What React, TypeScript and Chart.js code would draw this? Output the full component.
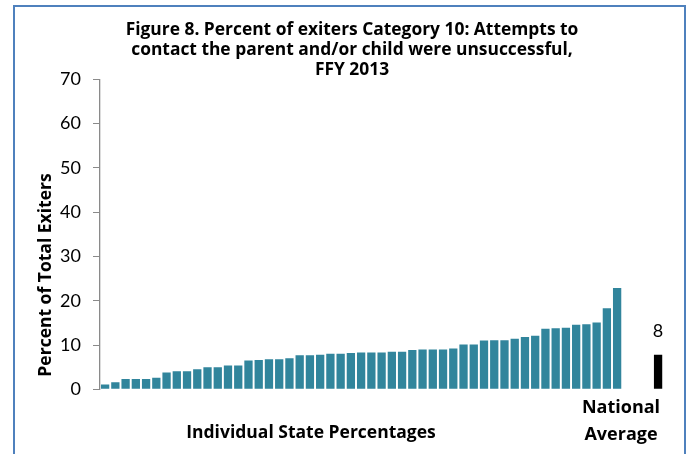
import React, { useEffect, useRef } from "react";
import { Chart, registerables } from "chart.js";

Chart.register(...registerables);

const titleLines = [
  "Figure 8. Percent of exiters Category 10: Attempts to",
  "contact the parent and/or child were unsuccessful,",
  "FFY 2013",
];
const yAxisTitle = "Percent of Total Exiters";
const stateAxisLabel = "Individual State Percentages";
const nationalLabelLines = ["National", "Average"];

const stateValues = [
  1.1, 1.6, 2.3, 2.3, 2.3, 2.6, 3.8, 4.1, 4.1, 4.5, 5.0, 5.0, 5.4, 5.4, 6.5, 6.6, 6.8,
  6.8, 7.0, 7.7, 7.7, 7.8, 8.0, 8.0, 8.2, 8.3, 8.3, 8.3, 8.5, 8.5, 8.9, 9.0, 9.0, 9.0,
  9.2, 10.1, 10.1, 11.0, 11.1, 11.1, 11.4, 11.8, 12.1, 13.7, 13.8, 13.9, 14.6, 14.7,
  15.1, 18.3, 22.9,
];
const stateCategories = stateValues.map((_, i) => `State ${i + 1}`);
const gapCategories = ["", "", ""];
const nationalCategory = "National Average";
const nationalAverage = 7.8;

const yMin = 0;
const yMax = 70;
const yStep = 10;

const FONT = "Lato, 'Open Sans', sans-serif";
const BOLD_FONT = "'Open Sans', 'Noto Sans', sans-serif";
const STATE_COLOR = "#31859C";
const NATIONAL_COLOR = "#000000";

export default function App() {
  const canvasRef = useRef<HTMLCanvasElement | null>(null);

  useEffect(() => {
    if (!canvasRef.current) return;
    const labels = [...stateCategories, ...gapCategories, nationalCategory];
    const data: (number | null)[] = [
      ...stateValues,
      ...gapCategories.map(() => null),
      nationalAverage,
    ];
    const colors = [
      ...stateValues.map(() => STATE_COLOR),
      ...gapCategories.map(() => STATE_COLOR),
      NATIONAL_COLOR,
    ];
    const nationalIndex = labels.length - 1;

    const textPlugin = {
      id: "textPlugin",
      afterDraw(chart: any) {
        const ctx = chart.ctx as CanvasRenderingContext2D;
        ctx.save();
        ctx.fillStyle = "#000";
        ctx.textAlign = "center";
        ctx.textBaseline = "alphabetic";
        ctx.font = `bold 17.4px ${BOLD_FONT}`;
        titleLines.forEach((line, i) => ctx.fillText(line, 352, 35 + i * 20));

        ctx.save();
        ctx.translate(51, 275);
        ctx.rotate(-Math.PI / 2);
        ctx.font = `bold 17.5px ${BOLD_FONT}`;
        ctx.fillText(yAxisTitle, 0, 0);
        ctx.restore();

        ctx.font = `bold 17.5px ${BOLD_FONT}`;
        ctx.fillText(stateAxisLabel, 311, 438);
        ctx.font = `bold 18px ${BOLD_FONT}`;
        ctx.fillText(nationalLabelLines[0], 621, 413);
        ctx.fillText(nationalLabelLines[1], 621, 440);

        const xs = chart.scales.x;
        const ys = chart.scales.y;
        ctx.font = `18px ${FONT}`;
        ctx.fillText(
          String(Math.round(nationalAverage)),
          xs.getPixelForValue(nationalIndex),
          ys.getPixelForValue(nationalAverage) - 18
        );
        ctx.restore();
      },
    };

    const chart = new Chart(canvasRef.current, {
      type: "bar",
      data: {
        labels,
        datasets: [
          {
            data,
            backgroundColor: colors,
            borderWidth: 0,
            categoryPercentage: 1,
            barPercentage: 0.81,
          },
        ],
      },
      options: {
        responsive: false,
        animation: false,
        events: [],
        layout: { padding: { top: 79.3, right: 23.8, left: 0, bottom: 0 } },
        plugins: {
          legend: { display: false },
          title: { display: false },
          tooltip: { enabled: false },
        },
        scales: {
          x: {
            grid: { display: false },
            border: { display: false },
            ticks: { display: false },
            afterFit(scale: any) {
              scale.height = 64.7;
            },
          },
          y: {
            min: yMin,
            max: yMax,
            ticks: {
              stepSize: yStep,
              padding: 12,
              color: "#000",
              font: { family: FONT, size: 18 },
            },
            grid: {
              drawOnChartArea: false,
              drawTicks: true,
              tickLength: 7,
              color: "#8a8a8a",
            },
            border: { display: true, color: "#8a8a8a", width: 1.3 },
            afterFit(scale: any) {
              scale.width = 100;
            },
          },
        },
      },
      plugins: [textPlugin],
    });
    return () => chart.destroy();
  }, []);

  return (
    <div
      style={{
        position: "fixed",
        left: 0,
        top: 0,
        width: 687,
        height: 454,
        background: "#fff",
        overflow: "hidden",
      }}
    >
      <div
        style={{
          position: "absolute",
          left: 13,
          top: 5,
          width: 673,
          height: 470,
          border: "2px solid #4F81BD",
          boxSizing: "border-box",
        }}
      />
      <canvas
        ref={canvasRef}
        width={687}
        height={454}
        style={{ position: "absolute", left: 0, top: 0, width: 687, height: 454 }}
      />
    </div>
  );
}
